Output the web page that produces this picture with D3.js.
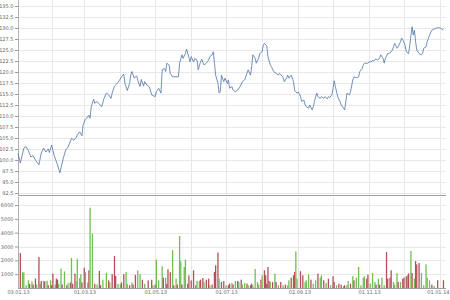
<!DOCTYPE html>
<html><head><meta charset="utf-8">
<script src="https://cdn.jsdelivr.net/npm/d3@7"></script>
<style>html,body{margin:0;padding:0;background:#fff;}svg{display:block;}</style>
</head><body>
<svg id="c" width="450" height="300"></svg>
<script>
// ---- data (day = days since 1 Jan 2013) ----
const priceDays = [2,4,7,9,11,13,15,17,20,22,
 24,26,28,29,31,33,36,38,41,43,
 45,48,50,52,53,55,57,58,60,61,
 63,64,65,67,68,70,72,74,76,78,
 80,82,83,85,87,89,91,93,94,96,
 98,99,100,102,104,106,107,108,110,111,
 113,115,117,120,121,123,125,126,128,129,
 130,132,133,135,137,140,141,143,144,146,
 147,149,150,151,153,154,156,157,159,160,
 162,164,166,167,169,170,171,172,174,175,
 176,177,179,180,182,183,184,186,187,189,
 191,193,195,197,199,200,202,203,204,206,
 207,209,210,212,213,214,216,217,219,220,
 222,224,226,227,230,231,233,234,235,237,
 239,240,242,243,245,246,248,249,250,252,
 253,255,256,257,259,260,262,263,265,266,
 268,269,270,272,273,274,275,277,279,280,
 282,283,284,285,287,288,290,291,293,295,
 296,298,299,300,303,304,306,307,308,310,
 311,313,314,316,317,318,320,321,323,324,
 325,326,328,329,331,332,333,335,336,338,
 339,341,342,343,344,345,347,349,350,351,
 353,354,356,358,361,364,366,368];
const prices = [101.5,99.3,102.7,103.0,102.1,100.7,101.0,100.0,98.9,101.6,
 102.7,101.8,102.5,101.7,103.4,101.1,98.9,97.1,100.4,102.3,
 102.9,104.9,104.5,105.1,105.7,106.4,105.5,108.0,109.3,109.5,
 110.2,109.5,112.1,113.8,112.9,113.3,112.7,112.1,114.0,115.2,
 114.8,114.0,115.2,116.8,117.3,118.0,118.9,119.5,117.4,115.8,
 117.4,119.3,120.1,118.6,119.1,117.4,116.7,118.3,116.8,117.8,
 117.0,116.6,114.8,114.4,115.5,116.3,115.2,120.5,120.8,120.1,
 122.0,121.6,119.7,118.9,118.9,118.9,122.0,123.9,123.1,124.2,
 125.2,123.3,122.3,123.5,122.3,123.1,122.7,120.5,122.3,122.9,
 121.6,122.0,122.7,123.5,123.9,124.6,122.0,119.3,117.4,115.2,
 115.5,119.3,117.8,118.6,117.4,118.2,116.3,116.7,115.9,115.5,
 115.9,116.7,117.8,118.2,119.7,120.5,119.3,121.2,123.9,123.1,
 122.0,123.1,124.2,124.6,126.1,126.5,125.9,123.5,121.6,121.2,
 120.1,119.7,119.3,119.7,118.8,117.8,118.6,119.3,118.6,119.3,
 117.8,115.8,115.2,115.5,114.5,113.3,113.6,112.5,112.1,111.8,
 112.5,111.4,112.1,113.3,115.2,114.4,114.0,114.4,114.0,114.4,
 113.9,114.4,114.2,114.8,116.3,118.0,116.7,114.4,113.3,112.5,
 111.8,111.4,113.3,115.2,114.8,115.5,118.2,118.9,118.7,118.9,
 120.1,120.8,121.6,122.0,122.0,122.3,122.3,122.7,122.5,123.0,
 122.7,123.1,123.9,123.1,122.0,123.1,124.2,124.2,124.6,125.0,
 125.7,126.5,125.4,125.7,126.9,127.7,127.3,126.1,124.6,124.2,
 126.1,130.3,128.4,129.5,126.9,125.0,124.2,123.9,124.2,125.4,
 125.7,126.9,128.4,129.5,129.9,130.1,129.9,129.5];

const volDays = [4,6,7,9,11,12,14,15,17,18,20,21,22,24,25,27,28,30,31,32,
 34,35,36,37,39,40,42,44,45,47,48,49,51,52,53,55,56,57,59,60,
 62,63,64,66,68,70,72,73,75,78,80,81,83,85,86,88,90,91,93,95,
 96,98,100,101,103,105,107,109,111,114,
 117,118,120,121,123,126,127,129,130,131,133,135,136,138,139,141,142,143,145,146,
 148,149,151,153,155,156,158,159,161,162,164,166,167,169,171,172,174,175,177,179,
 181,183,184,186,187,189,191,192,194,195,197,199,200,202,203,204,206,208,209,211,
 212,214,215,216,217,218,219,221,223,224,226,228,230,232,234,235,237,239,240,241,242,
 245,247,249,250,252,254,256,258,260,262,263,265,267,269,271,273,274,276,278,280,
 282,283,285,286,288,290,291,293,295,297,299,300,302,303,305,307,309,310,312,313,
 315,317,319,320,322,323,325,326,328,329,331,333,334,336,337,338,340,341,343,344,
 345,347,349,351,353,354,356,358,360,363,368];
const volumes = [2530,1135,1130,200,560,300,480,250,680,250,2240,300,500,500,480,520,200,560,200,1040,
 250,680,600,300,1400,250,1200,200,350,400,2170,300,1040,500,2120,700,1000,400,1470,1150,
 400,1280,5810,3930,300,250,1230,200,600,1100,550,400,1000,2310,870,300,250,400,1000,1150,
 300,200,400,250,950,1280,1000,600,300,550,
 600,200,250,2050,550,1570,750,750,300,1350,1150,2730,200,675,250,3760,1930,250,1520,2050,
 300,910,554,1280,200,506,506,603,720,434,603,675,200,250,1160,1640,2560,675,434,506,
 200,200,313,362,250,506,506,434,603,250,362,313,200,200,313,200,1370,434,250,603,
 916,1280,916,300,1520,506,434,434,1040,434,200,434,200,250,200,554,747,916,1157,2650,675,
 1210,916,434,554,970,603,313,554,1036,747,916,554,362,675,200,850,434,200,313,241,
 150,200,200,506,313,844,554,747,1520,200,747,844,675,964,313,1080,434,241,675,241,
 747,200,2600,675,747,1280,434,250,1080,434,434,675,747,844,916,1050,2680,1085,675,1950,
 1710,1810,1085,200,1710,747,554,241,150,560,560];
const volUp = [0,1,1,1,1,0,1,0,0,1,0,1,0,1,0,1,0,1,0,0,
 1,0,0,1,1,0,1,0,1,0,1,0,0,1,1,1,1,0,0,1,
 1,0,1,1,0,1,0,0,1,1,0,1,0,0,0,1,1,0,0,1,
 1,0,1,0,0,1,1,0,1,0,
 0,1,0,1,1,1,0,1,0,0,0,1,0,1,0,1,1,0,1,1,
 0,0,0,0,0,1,1,0,0,1,0,0,1,0,0,0,0,1,0,0,
 1,0,0,1,0,1,0,1,0,1,1,0,1,0,0,1,1,1,1,0,
 1,0,0,0,0,0,1,0,1,0,1,0,1,0,1,1,0,0,0,1,1,
 0,0,1,1,1,0,1,1,0,1,1,0,1,0,1,0,0,1,0,0,
 1,0,1,1,0,1,0,1,1,1,1,1,0,0,1,1,1,0,1,0,
 1,1,0,0,0,0,1,1,1,0,1,0,0,0,1,0,1,0,1,0,
 0,0,1,1,1,1,1,0,1,0,0];

const priceTicks = [92.5,95,97.5,100,102.5,105,107.5,110,112.5,115,117.5,120,122.5,125,127.5,130,132.5,135];
const volTicks = [1000,2000,3000,4000,5000,6000];
const xTickDates = ["2013-01-03","2013-03-01","2013-05-01","2013-07-01","2013-09-02","2013-11-01","2014-01-01"];
const xTickLabels = ["03.01.13","01.03.13","01.05.13","01.07.13","02.09.13","01.11.13","01.01.14"];

// ---- drawing ----
const svg = d3.select("#c");
const L = 18, R = 446;
const dayToDate = d => new Date(2013, 0, 1 + d);
const parse = d3.timeParse("%Y-%m-%d");
const x = d3.scaleTime().domain([new Date(2013,0,3), new Date(2014,0,1)]).range([L, 440]);
const yP = d3.scaleLinear().domain([92.5, 135]).range([193, 6]);
const yV = d3.scaleLinear().domain([0, 6000]).range([288, 205]);
const topP = 0, botP = 195, topV = 197, botV = 288;
const font = "DejaVu Sans, Verdana, sans-serif";
const grid = "#e8e8e8";

const months = d3.timeMonth.range(new Date(2013,1,1), new Date(2014,0,2));

// top panel grid
svg.append("g").selectAll("line").data(priceTicks).join("line")
  .attr("x1", L).attr("x2", R).attr("y1", d => Math.round(yP(d))+0.5).attr("y2", d => Math.round(yP(d))+0.5)
  .attr("stroke", grid).attr("stroke-width", 1);
svg.append("g").selectAll("line").data(months).join("line")
  .attr("x1", d => Math.round(x(d))+0.5).attr("x2", d => Math.round(x(d))+0.5)
  .attr("y1", topP).attr("y2", botP).attr("stroke", grid);
// bottom panel grid
svg.append("g").selectAll("line").data(volTicks).join("line")
  .attr("x1", L).attr("x2", R).attr("y1", d => Math.round(yV(d))+0.5).attr("y2", d => Math.round(yV(d))+0.5)
  .attr("stroke", grid);
svg.append("g").selectAll("line").data(months).join("line")
  .attr("x1", d => Math.round(x(d))+0.5).attr("x2", d => Math.round(x(d))+0.5)
  .attr("y1", topV).attr("y2", botV).attr("stroke", grid);

// axes lines
svg.append("line").attr("x1", L+0.5).attr("x2", L+0.5).attr("y1", topP).attr("y2", botP).attr("stroke", "#b0b0b0");
svg.append("line").attr("x1", L+0.5).attr("x2", L+0.5).attr("y1", topV).attr("y2", botV).attr("stroke", "#b0b0b0");
svg.append("line").attr("x1", L).attr("x2", R).attr("y1", botP+0.5).attr("y2", botP+0.5).attr("stroke", "#a0a0a0");
svg.append("line").attr("x1", L).attr("x2", R).attr("y1", botV+0.5).attr("y2", botV+0.5).attr("stroke", "#a0a0a0");

// axes
const gP = svg.append("g").attr("transform", `translate(${L},0)`)
  .call(d3.axisLeft(yP).tickValues(priceTicks).tickFormat(d3.format(".1f")).tickSize(3).tickPadding(1.5));
const gV = svg.append("g").attr("transform", `translate(${L},0)`)
  .call(d3.axisLeft(yV).tickValues(volTicks).tickFormat(d3.format("d")).tickSize(3).tickPadding(1.5));
const gX = svg.append("g").attr("transform", `translate(0,${botV})`)
  .call(d3.axisBottom(x).tickValues(xTickDates.map(parse)).tickFormat((d,i) => xTickLabels[i]).tickSize(0).tickPadding(2));
[gP, gV, gX].forEach(g => {
  g.select(".domain").remove();
  g.selectAll(".tick line").attr("stroke", "#999");
  g.selectAll("text").attr("fill", "#666").attr("font-family", font).attr("font-size", 5);
});
// keep the last date label inside the picture
gX.selectAll(".tick text").filter((d,i,n) => i === n.length - 1)
  .attr("text-anchor", "end").attr("dx", 9);

// volume bars
const bw = 1.3;
svg.append("g").selectAll("rect").data(volDays.map((d,i) => ({d, v: volumes[i], up: volUp[i]})))
  .join("rect")
  .attr("x", p => x(dayToDate(p.d)) - bw/2)
  .attr("width", bw)
  .attr("y", p => yV(p.v))
  .attr("height", p => yV(0) - yV(p.v))
  .attr("fill", p => p.up ? "#72be55" : "#b4505a");

// price line
const line = d3.line().x((d,i) => x(dayToDate(priceDays[i]))).y(d => yP(d));
svg.append("path").datum(prices).attr("d", line)
  .attr("fill", "none").attr("stroke", "#5074aa").attr("stroke-width", 0.8).attr("stroke-linejoin", "round");
</script>
</body></html>
